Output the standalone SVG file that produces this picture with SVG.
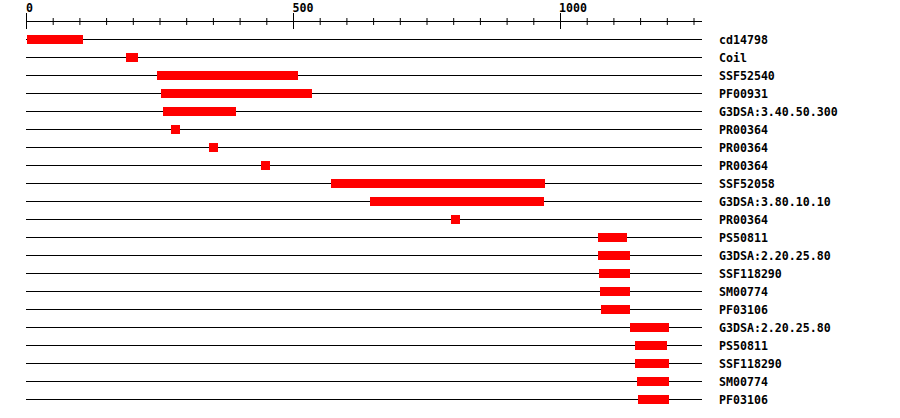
<svg xmlns="http://www.w3.org/2000/svg" width="900" height="418" viewBox="0 0 900 418">
<style>
.t{font-family:"DejaVu Sans Mono","Liberation Mono",monospace;font-weight:bold;font-size:11.6px;fill:#000}
.ln{stroke:#000;stroke-width:1;fill:none}
.bar{fill:#ff0000}
</style>
<rect width="900" height="418" fill="#fff"/>
<g id="axis">
<line class="ln" x1="26" y1="21.5" x2="702" y2="21.5"/>
<path class="ln" d="M26.5 13V29M53.2 18V25M79.9 18V25M106.6 18V25M133.3 18V25M160 18V25M186.7 18V25M213.4 18V25M240.1 18V25M266.8 18V25M293.5 13V29M320.2 18V25M346.9 18V25M373.6 18V25M400.3 18V25M427 18V25M453.7 18V25M480.4 18V25M507.1 18V25M533.8 18V25M560.5 13V29M587.2 18V25M613.9 18V25M640.6 18V25M667.3 18V25M694 18V25"/>
<text class="t" x="26" y="12">0</text>
<text class="t" x="292.5" y="12">500</text>
<text class="t" x="559" y="12">1000</text>
</g>
<g id="row0"><line class="ln" x1="26" y1="39.5" x2="702" y2="39.5"/><rect class="bar" x="27" y="35" width="56" height="9"/><text class="t" x="719" y="44">cd14798</text></g>
<g id="row1"><line class="ln" x1="26" y1="57.5" x2="702" y2="57.5"/><rect class="bar" x="126" y="53" width="12" height="9"/><text class="t" x="719" y="62">Coil</text></g>
<g id="row2"><line class="ln" x1="26" y1="75.5" x2="702" y2="75.5"/><rect class="bar" x="157" y="71" width="141" height="9"/><text class="t" x="719" y="80">SSF52540</text></g>
<g id="row3"><line class="ln" x1="26" y1="93.5" x2="702" y2="93.5"/><rect class="bar" x="161" y="89" width="151" height="9"/><text class="t" x="719" y="98">PF00931</text></g>
<g id="row4"><line class="ln" x1="26" y1="111.5" x2="702" y2="111.5"/><rect class="bar" x="163" y="107" width="73" height="9"/><text class="t" x="719" y="116">G3DSA:3.40.50.300</text></g>
<g id="row5"><line class="ln" x1="26" y1="129.5" x2="702" y2="129.5"/><rect class="bar" x="171" y="125" width="9" height="9"/><text class="t" x="719" y="134">PR00364</text></g>
<g id="row6"><line class="ln" x1="26" y1="147.5" x2="702" y2="147.5"/><rect class="bar" x="209" y="143" width="9" height="9"/><text class="t" x="719" y="152">PR00364</text></g>
<g id="row7"><line class="ln" x1="26" y1="165.5" x2="702" y2="165.5"/><rect class="bar" x="261" y="161" width="9" height="9"/><text class="t" x="719" y="170">PR00364</text></g>
<g id="row8"><line class="ln" x1="26" y1="183.5" x2="702" y2="183.5"/><rect class="bar" x="331" y="179" width="214" height="9"/><text class="t" x="719" y="188">SSF52058</text></g>
<g id="row9"><line class="ln" x1="26" y1="201.5" x2="702" y2="201.5"/><rect class="bar" x="370" y="197" width="174" height="9"/><text class="t" x="719" y="206">G3DSA:3.80.10.10</text></g>
<g id="row10"><line class="ln" x1="26" y1="219.5" x2="702" y2="219.5"/><rect class="bar" x="451" y="215" width="9" height="9"/><text class="t" x="719" y="224">PR00364</text></g>
<g id="row11"><line class="ln" x1="26" y1="237.5" x2="702" y2="237.5"/><rect class="bar" x="598" y="233" width="29" height="9"/><text class="t" x="719" y="242">PS50811</text></g>
<g id="row12"><line class="ln" x1="26" y1="255.5" x2="702" y2="255.5"/><rect class="bar" x="598" y="251" width="32" height="9"/><text class="t" x="719" y="260">G3DSA:2.20.25.80</text></g>
<g id="row13"><line class="ln" x1="26" y1="273.5" x2="702" y2="273.5"/><rect class="bar" x="599" y="269" width="31" height="9"/><text class="t" x="719" y="278">SSF118290</text></g>
<g id="row14"><line class="ln" x1="26" y1="291.5" x2="702" y2="291.5"/><rect class="bar" x="600" y="287" width="30" height="9"/><text class="t" x="719" y="296">SM00774</text></g>
<g id="row15"><line class="ln" x1="26" y1="309.5" x2="702" y2="309.5"/><rect class="bar" x="601" y="305" width="29" height="9"/><text class="t" x="719" y="314">PF03106</text></g>
<g id="row16"><line class="ln" x1="26" y1="327.5" x2="702" y2="327.5"/><rect class="bar" x="630" y="323" width="39" height="9"/><text class="t" x="719" y="332">G3DSA:2.20.25.80</text></g>
<g id="row17"><line class="ln" x1="26" y1="345.5" x2="702" y2="345.5"/><rect class="bar" x="635" y="341" width="32" height="9"/><text class="t" x="719" y="350">PS50811</text></g>
<g id="row18"><line class="ln" x1="26" y1="363.5" x2="702" y2="363.5"/><rect class="bar" x="635" y="359" width="34" height="9"/><text class="t" x="719" y="368">SSF118290</text></g>
<g id="row19"><line class="ln" x1="26" y1="381.5" x2="702" y2="381.5"/><rect class="bar" x="637" y="377" width="32" height="9"/><text class="t" x="719" y="386">SM00774</text></g>
<g id="row20"><line class="ln" x1="26" y1="399.5" x2="702" y2="399.5"/><rect class="bar" x="638" y="395" width="31" height="9"/><text class="t" x="719" y="404">PF03106</text></g>
<g id="connectors"/>
</svg>
